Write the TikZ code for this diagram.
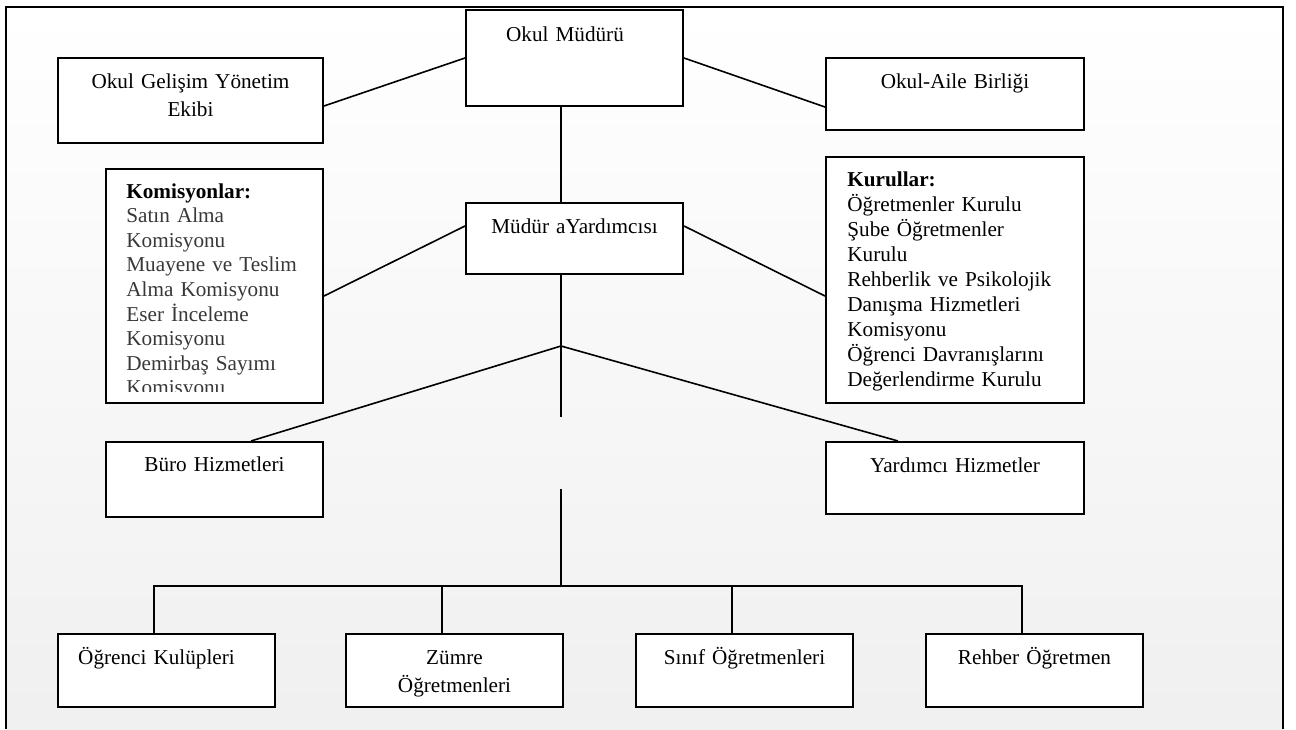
\documentclass[tikz,border=0pt]{standalone}
\usepackage{fontspec}
\setmainfont{Liberation Serif}
\usepackage{tikz}

\begin{document}
\begin{tikzpicture}[x=0.5pt, y=-0.5pt,
  kutu/.style={draw, line width=1pt, fill=white, anchor=north west, inner sep=0pt},
  yazi/.style={inner sep=0pt, align=center, anchor=base, font=\fontsize{10.6}{14.25}\selectfont},
  liste/.style={inner sep=0pt, align=left, anchor=base west, font=\fontsize{10.6}{12.3}\selectfont},
  bag/.style={line width=0.8pt}]
% Define the shift of the vertical lines from the box centres
\def\lineShift{-6.25pt}

% Draw the background and the frame
\useasboundingbox (0,0) rectangle (1296,729);
\shade[top color=white, bottom color=black!6] (6,7) rectangle (1283,729);
\draw[line width=1.2pt] (6,729) -- (6,7) -- (1283,7) -- (1283,729);

% Draw the boxes
\node[kutu, minimum width=108.5pt, minimum height=48pt] (om) at (465,9) {};
\node[kutu, minimum width=132.5pt, minimum height=42.5pt] (ogye) at (57,57) {};
\node[kutu, minimum width=129pt, minimum height=36pt] (oab) at (825,57) {};
\node[kutu, minimum width=108.5pt, minimum height=35.5pt] (my) at (465,202) {};
\node[kutu, minimum width=108.5pt, minimum height=117pt] (kom) at (105,168) {};
\node[kutu, minimum width=129pt, minimum height=123pt] (kur) at (825,156) {};
\node[kutu, minimum width=108.5pt, minimum height=37.5pt] (buro) at (105,441) {};
\node[kutu, minimum width=129pt, minimum height=36pt] (yard) at (825,441) {};
\foreach \ad/\x in {ogr/57, zum/345, sin/635, reh/925}
  \node[kutu, minimum width=108.5pt, minimum height=36.5pt] (\ad) at (\x,633) {};

% Add the texts
\node[yazi, text width=100pt] (om-y) at ([xshift=-4.75pt, yshift=-16pt]om.north) {Okul Müdürü};
\node[yazi, text width=120pt] (ogye-y) at ([yshift=-15.5pt]ogye.north) {Okul Gelişim Yönetim\\Ekibi};
\node[yazi, text width=120pt] (oab-y) at ([yshift=-15.5pt]oab.north) {Okul-Aile Birliği};
\node[yazi, text width=100pt] (my-y) at ([yshift=-15.5pt]my.north) {Müdür aYardımcısı};
\node[yazi, text width=100pt] (buro-y) at ([yshift=-15pt]buro.north) {Büro Hizmetleri};
\node[yazi, text width=120pt] (yard-y) at ([yshift=-15.5pt]yard.north) {Yardımcı Hizmetler};
\foreach \ad/\dx/\metin in {ogr/-5pt/{Öğrenci Kulüpleri}, zum/0pt/{Zümre\\Öğretmenleri},
    sin/0pt/{Sınıf Öğretmenleri}, reh/0pt/{Rehber Öğretmen}}
  \node[yazi, text width=100pt] (\ad-y) at ([xshift=\dx, yshift=-15.5pt]\ad.north) {\metin};

% The list of commissions runs past its box
\begin{scope}
\clip (kom.north west) rectangle ([yshift=6.5pt]kom.south east);
\node[liste, text width=100pt, text=black!78] (kom-y) at ([xshift=10.5pt, yshift=-15pt]kom.north west)
  {\textcolor{black}{\textbf{Komisyonlar:}}\\Satın Alma\\Komisyonu\\Muayene ve Teslim\\Alma Komisyonu\\Eser İnceleme\\Komisyonu\\Demirbaş Sayımı\\Komisyonu};
\end{scope}
\node[liste, text width=112pt, font=\fontsize{10.6}{12.5}\selectfont] (kur-y) at ([xshift=11pt, yshift=-15pt]kur.north west)
  {\textbf{Kurullar:}\\Öğretmenler Kurulu\\Şube Öğretmenler\\Kurulu\\Rehberlik ve Psikolojik\\Danışma Hizmetleri\\Komisyonu\\Öğrenci Davranışlarını\\Değerlendirme Kurulu};

% Define the points on the vertical line
\coordinate (dal) at (561,346);
\coordinate (kol1) at (561,417);
\coordinate (kol2) at (561,489);
\coordinate (bus) at (561,586);

% Draw the connectors
\draw[bag] (om.west) -- ([yshift=-2.75pt]ogye.east);
\draw[bag] (om.east) -- ([yshift=-6.5pt]oab.west);
\draw[bag] (dal |- om.south) -- (dal |- my.north);
\draw[bag] ([yshift=6.25pt]my.west) -- ([yshift=-5pt]kom.east);
\draw[bag] ([yshift=6.25pt]my.east) -- ([yshift=-8pt]kur.west);
\draw[bag] (dal |- my.south) -- (dal) -- (kol1);
\draw[bag] ([xshift=18.25pt]buro.north) -- (dal) -- ([xshift=-28.5pt]yard.north);
\draw[bag] (kol2) -- (bus);
\draw[bag] ([xshift=\lineShift]ogr.north) |- (bus) -| ([xshift=\lineShift]reh.north);
\foreach \ad in {zum, sin}
  \draw[bag] ([xshift=\lineShift]\ad.north) -- ([xshift=\lineShift]\ad.north |- bus);

\end{tikzpicture}
\end{document}
